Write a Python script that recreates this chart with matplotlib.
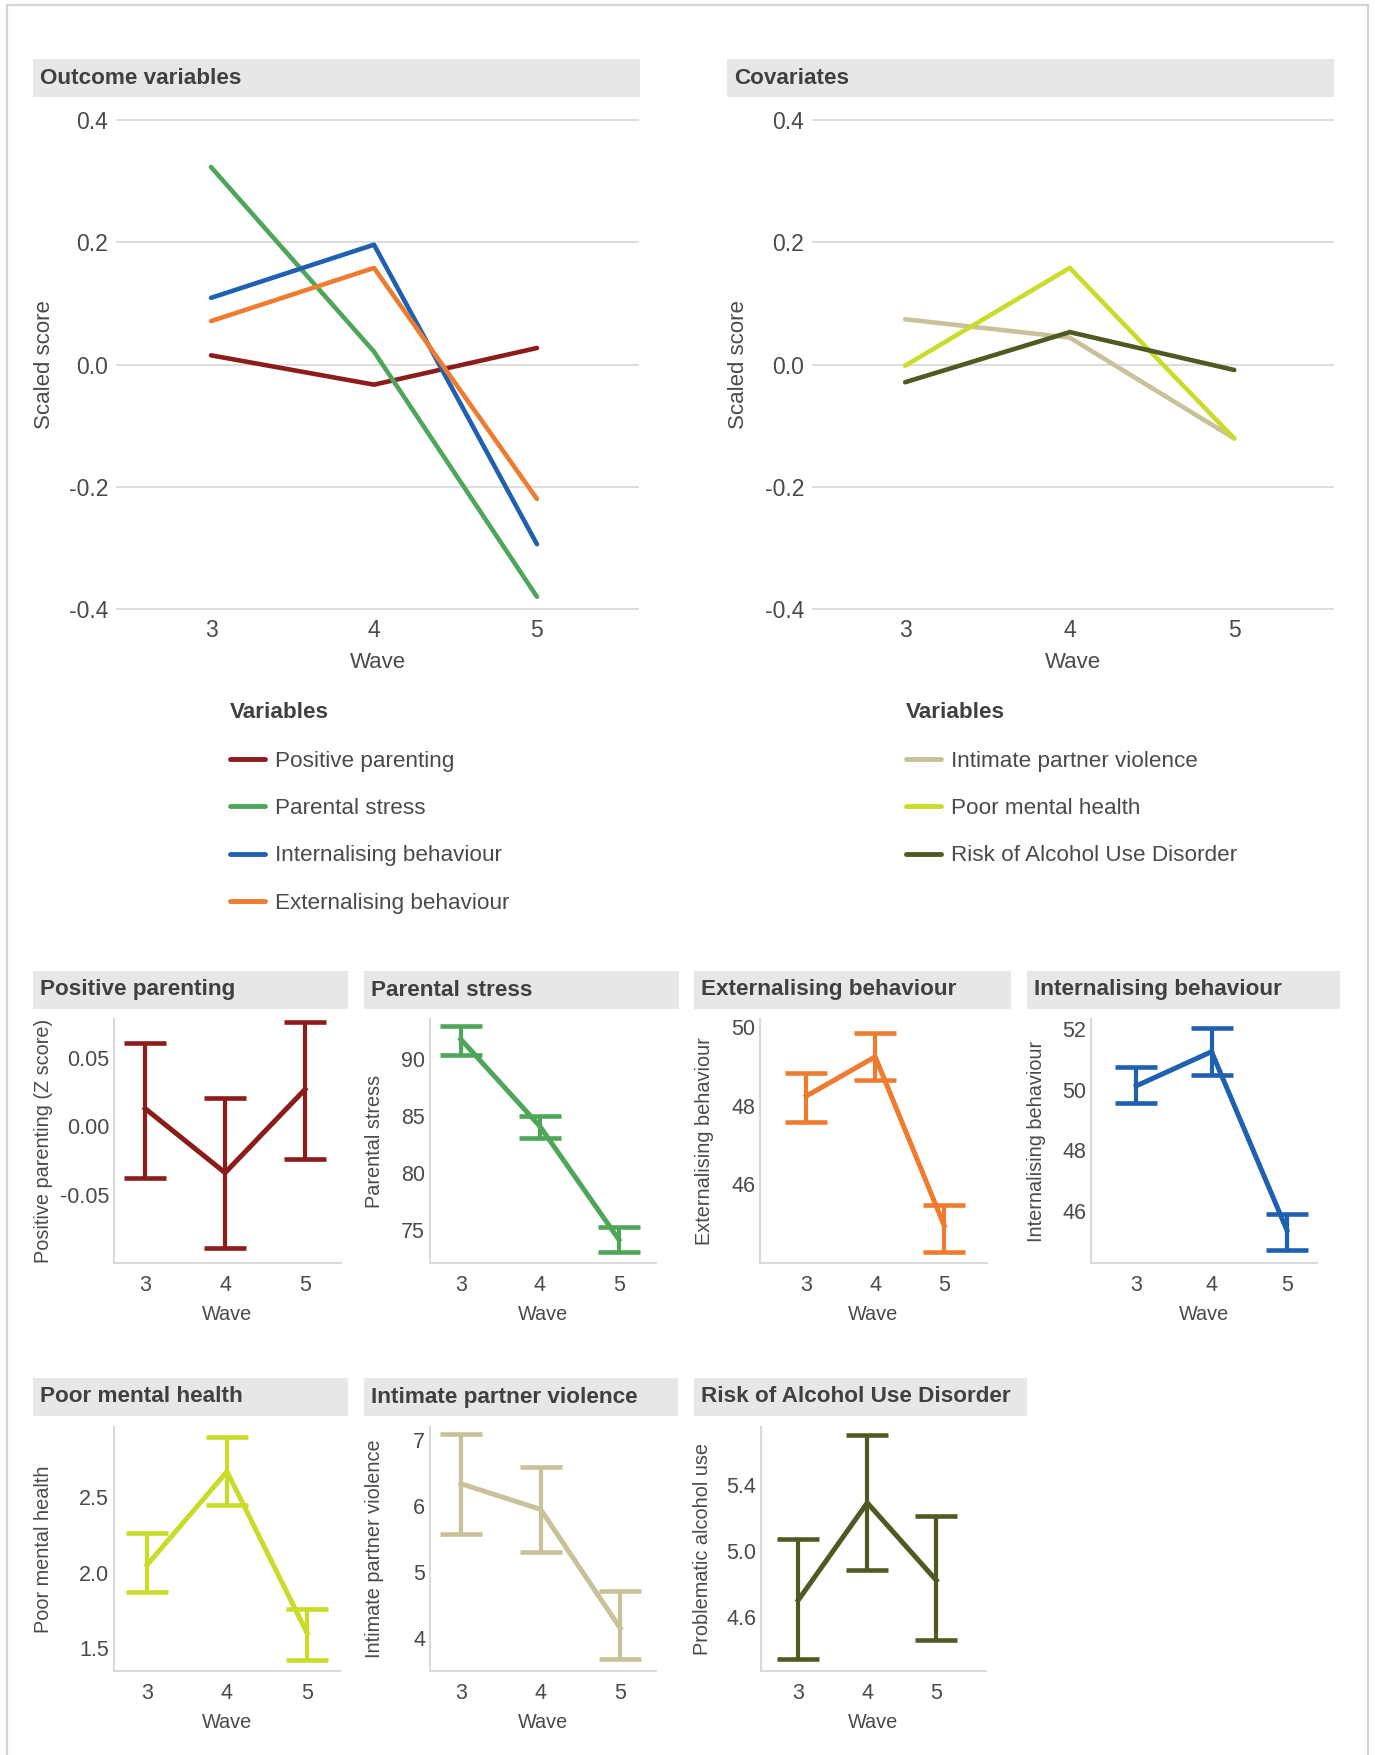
import matplotlib
matplotlib.use("Agg")
import matplotlib.pyplot as plt
from matplotlib.lines import Line2D
import numpy as np

plt.rcParams['font.family'] = ['Liberation Sans', 'DejaVu Sans']

W, H = 1375, 1755

waves = [3, 4, 5]

# top panels: scaled scores
outcome_names = ['Positive parenting', 'Parental stress',
                 'Internalising behaviour', 'Externalising behaviour']
pos_parenting_scaled = [0.015, -0.033, 0.027]
par_stress_scaled = [0.323, 0.021, -0.380]
internal_scaled = [0.109, 0.196, -0.294]
external_scaled = [0.071, 0.158, -0.220]

covariate_names = ['Intimate partner violence', 'Poor mental health',
                   'Risk of Alcohol Use Disorder']
ipv_scaled = [0.074, 0.044, -0.121]
pmh_scaled = [-0.002, 0.158, -0.121]
alcohol_scaled = [-0.029, 0.053, -0.009]

# small panels: mean with lower / upper bounds
pp_mean = [0.013, -0.034, 0.027]
pp_low = [-0.038, -0.089, -0.024]
pp_high = [0.061, 0.021, 0.076]

ps_mean = [91.7, 84.1, 74.2]
ps_low = [90.3, 83.1, 73.1]
ps_high = [92.9, 85.0, 75.3]

eb_mean = [48.24, 49.24, 44.95]
eb_low = [47.59, 48.64, 44.28]
eb_high = [48.82, 49.85, 45.48]

ib_mean = [50.13, 51.26, 45.37]
ib_low = [49.56, 50.50, 44.71]
ib_high = [50.77, 52.03, 45.90]

pmh_mean = [2.05, 2.67, 1.60]
pmh_low = [1.87, 2.45, 1.42]
pmh_high = [2.26, 2.90, 1.76]

ipv_mean = [6.34, 5.95, 4.15]
ipv_low = [5.58, 5.31, 3.68]
ipv_high = [7.09, 6.59, 4.72]

alc_mean = [4.70, 5.29, 4.82]
alc_low = [4.345, 4.88, 4.46]
alc_high = [5.07, 5.70, 5.21]

C_PP = '#8c1c1a'
C_PS = '#4ea65a'
C_IB = '#1f60b0'
C_EB = '#ef7b2e'
C_IPV = '#c9c19a'
C_PMH = '#cadc2a'
C_ALC = '#4f5a23'

STRIP = '#e6e7e8'
TXT = '#404040'
TICK = '#4a4a4a'
GRID = '#dadada'

fig = plt.figure(figsize=(W / 100, H / 100), dpi=100)


def px_axes(x0, y0, x1, y1, **kw):
    return fig.add_axes([x0 / W, 1 - y1 / H, (x1 - x0) / W, (y1 - y0) / H], **kw)


def strip(x0, y0, x1, y1, title):
    s = px_axes(x0, y0, x1, y1)
    s.set_facecolor(STRIP)
    s.set_xticks([])
    s.set_yticks([])
    for sp in s.spines.values():
        sp.set_visible(False)
    s.text(7 / (x1 - x0), 0.5, title, transform=s.transAxes, ha='left', va='center',
           fontsize=16.2, fontweight='bold', color=TXT)


# outer frame
for xs, ys in [([7, 7], [5, H]), ([7, 1368], [5, 5]), ([1368, 1368], [5, H])]:
    fig.add_artist(Line2D([x / W for x in xs], [1 - y / H for y in ys],
                          transform=fig.transFigure, color='#d4d4d4', lw=1.6))


def big_panel(x0, x1, xlim, series, colors, ylab_x):
    ax = px_axes(x0, 120, x1, 609)
    for vals, c in zip(series, colors):
        ax.plot(waves, vals, color=c, lw=3.3, solid_capstyle='round', clip_on=False)
    ax.set_xlim(xlim)
    ax.set_ylim(-0.4, 0.4)
    ax.set_yticks([-0.4, -0.2, 0.0, 0.2, 0.4])
    ax.set_yticklabels(['-0.4', '-0.2', '0.0', '0.2', '0.4'])
    ax.set_xticks(waves)
    ax.yaxis.grid(True, color=GRID, lw=1.3)
    for gl in ax.get_ygridlines():
        gl.set_clip_on(False)
    ax.set_axisbelow(True)
    for sp in ax.spines.values():
        sp.set_visible(False)
    ax.tick_params(length=0, labelsize=16.5, labelcolor=TICK)
    ax.tick_params(axis='y', pad=6.5)
    ax.tick_params(axis='x', pad=7)
    ax.set_xlabel('Wave', fontsize=16, color=TICK)
    ax.xaxis.set_label_coords(0.5, -(663 - 609) / 489)
    ax.xaxis.label.set_va('center')
    ax.set_ylabel('Scaled score', fontsize=16, color=TICK)
    ax.yaxis.set_label_coords(-(x0 - ylab_x) / (x1 - x0), 0.5)
    ax.yaxis.label.set_va('center')
    return ax


strip(33, 59, 640, 97, 'Outcome variables')
ax_out = big_panel(117, 638, (2.423, 5.62),
                   [pos_parenting_scaled, par_stress_scaled, internal_scaled, external_scaled],
                   [C_PP, C_PS, C_IB, C_EB], 45)

strip(727, 59, 1334, 97, 'Covariates')
ax_cov = big_panel(813, 1333, (2.44, 5.60),
                   [ipv_scaled, pmh_scaled, alcohol_scaled],
                   [C_IPV, C_PMH, C_ALC], 738)


def legend_at(x, y, names, colors):
    handles = [Line2D([], [], color=c, lw=3.5, solid_capstyle='round') for c in colors]
    leg = fig.legend(handles, names, loc='upper left',
                     bbox_to_anchor=(x / W, 1 - y / H), bbox_transform=fig.transFigure,
                     frameon=False, fontsize=16.2, title='Variables',
                     title_fontproperties={'size': 16.2, 'weight': 'bold'},
                     alignment='left', borderpad=0, borderaxespad=0,
                     handlelength=1.55, handletextpad=0.45, labelspacing=1.17)
    leg.get_title().set_color(TXT)
    for t in leg.get_texts():
        t.set_color(TICK)
    leg._legend_box.sep = 20
    return leg


legend_at(230, 702, outcome_names, [C_PP, C_PS, C_IB, C_EB])
legend_at(906, 702, covariate_names, [C_IPV, C_PMH, C_ALC])


def small_panel(box, y0, y1, xlim, ylim, yticks, yticklabels, mean, low, high,
                color, ylabel, ylab_x):
    x0, x1 = box
    ax = px_axes(x0, y0, x1, y1)
    mean = np.array(mean)
    yerr = [mean - np.array(low), np.array(high) - mean]
    ax.errorbar(waves, mean, yerr=yerr, color=color, lw=3.6, elinewidth=3.0,
                capsize=15, capthick=3.3, clip_on=False)
    ax.set_xlim(xlim)
    ax.set_ylim(ylim)
    ax.set_xticks(waves)
    ax.set_yticks(yticks)
    ax.set_yticklabels(yticklabels)
    for side in ['top', 'right']:
        ax.spines[side].set_visible(False)
    for side in ['left', 'bottom']:
        ax.spines[side].set_color(GRID)
        ax.spines[side].set_linewidth(1.5)
    ax.tick_params(length=0, labelsize=15.5, labelcolor=TICK)
    ax.tick_params(axis='y', pad=3.5)
    ax.tick_params(axis='x', pad=8.5)
    h = y1 - y0
    ax.set_xlabel('Wave', fontsize=14.3, color=TICK)
    ax.xaxis.set_label_coords(0.5, -52 / h)
    ax.xaxis.label.set_va('center')
    ax.set_ylabel(ylabel, fontsize=14.3, color=TICK)
    ax.yaxis.set_label_coords(-(x0 - ylab_x) / (x1 - x0), 0.5)
    ax.yaxis.label.set_va('center')
    return ax


# row 2
strip(33, 971, 348, 1009, 'Positive parenting')
small_panel((114, 341), 1019, 1263, (2.61, 5.45), (-0.100, 0.0785),
            [-0.05, 0.0, 0.05], ['-0.05', '0.00', '0.05'],
            pp_mean, pp_low, pp_high, C_PP, 'Positive parenting (Z score)', 44)

strip(364, 971, 679, 1009, 'Parental stress')
small_panel((430, 656), 1019, 1263, (2.61, 5.47), (72.15, 93.47),
            [75, 80, 85, 90], ['75', '80', '85', '90'],
            ps_mean, ps_low, ps_high, C_PS, 'Parental stress', 374)

strip(694, 971, 1011, 1009, 'Externalising behaviour')
small_panel((760, 987), 1019, 1263, (2.33, 5.62), (44.0, 50.2),
            [46, 48, 50], ['46', '48', '50'],
            eb_mean, eb_low, eb_high, C_EB, 'Externalising behaviour', 705)

strip(1027, 971, 1340, 1009, 'Internalising behaviour')
small_panel((1091, 1317), 1019, 1263, (2.40, 5.40), (44.28, 52.34),
            [46, 48, 50, 52], ['46', '48', '50', '52'],
            ib_mean, ib_low, ib_high, C_IB, 'Internalising behaviour', 1036)

# row 3
strip(33, 1378, 348, 1416, 'Poor mental health')
small_panel((114, 340), 1427, 1671, (2.59, 5.41), (1.349, 2.965),
            [1.5, 2.0, 2.5], ['1.5', '2.0', '2.5'],
            pmh_mean, pmh_low, pmh_high, C_PMH, 'Poor mental health', 44)

strip(364, 1378, 678, 1416, 'Intimate partner violence')
small_panel((430, 656), 1427, 1671, (2.61, 5.45), (3.5, 7.2),
            [4, 5, 6, 7], ['4', '5', '6', '7'],
            ipv_mean, ipv_low, ipv_high, C_IPV, 'Intimate partner violence', 374)

strip(694, 1378, 1027, 1416, 'Risk of Alcohol Use Disorder')
small_panel((761, 986), 1427, 1671, (2.46, 5.72), (4.27, 5.75),
            [4.6, 5.0, 5.4], ['4.6', '5.0', '5.4'],
            alc_mean, alc_low, alc_high, C_ALC, 'Problematic alcohol use', 703)

fig.savefig('out.png', dpi=100)
